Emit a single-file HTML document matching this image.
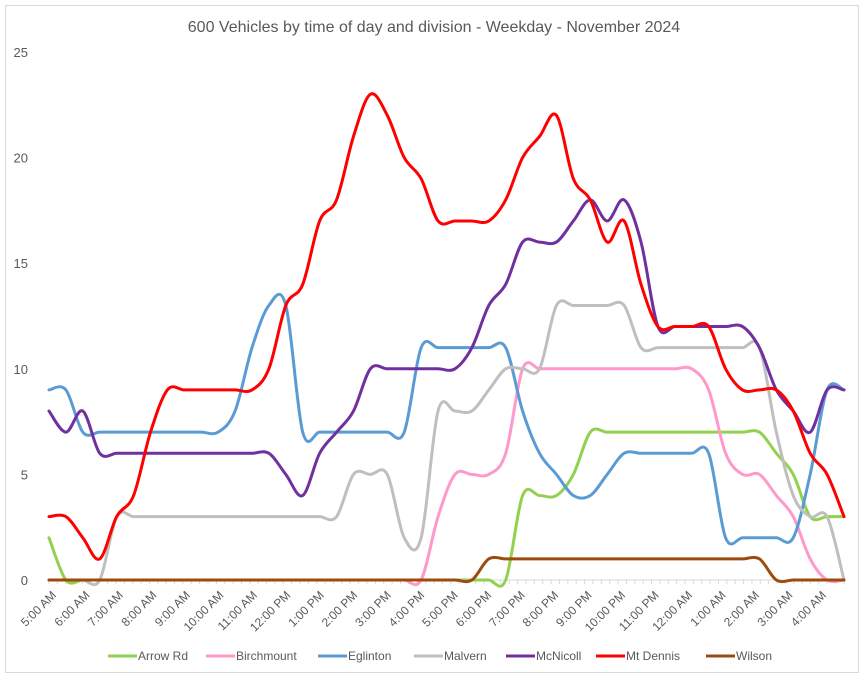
<!DOCTYPE html>
<html><head><meta charset="utf-8">
<style>
body{margin:0;background:#fff;font-family:"Liberation Sans",Arial,sans-serif;}
svg text{font-family:"Liberation Sans",Arial,sans-serif;fill:#595959;}
</style></head>
<body>
<svg id="chart" width="864" height="681" viewBox="0 0 864 681" xmlns="http://www.w3.org/2000/svg">
<rect x="0" y="0" width="864" height="681" fill="#fff"/>
<rect x="5.5" y="5.5" width="853" height="667" fill="none" stroke="#d9d9d9"/>
<text x="434" y="32" font-size="16" text-anchor="middle">600 Vehicles by time of day and division - Weekday - November 2024</text>
<g id="yaxis"></g><g id="xaxis"></g><g id="series"></g><g id="legend"></g>
</svg>
<script>
const hourLabels=["5:00 AM","6:00 AM","7:00 AM","8:00 AM","9:00 AM","10:00 AM","11:00 AM","12:00 PM","1:00 PM","2:00 PM","3:00 PM","4:00 PM","5:00 PM","6:00 PM","7:00 PM","8:00 PM","9:00 PM","10:00 PM","11:00 PM","12:00 AM","1:00 AM","2:00 AM","3:00 AM","4:00 AM"];
const yTicks=[0,5,10,15,20,25];
const seriesNames=["Arrow Rd","Birchmount","Eglinton","Malvern","McNicoll","Mt Dennis","Wilson"];
const seriesColors=["#92d050","#ff99cc","#5b9bd5","#bfbfbf","#7030a0","#ff0000","#9c4a0e"];
// half-hourly values, 5:00 AM .. 4:30 AM
const arrowRd=[2,0,0,0,0,0,0,0,0,0,0,0,0,0,0,0,0,0,0,0,0,0,0,0,0,0,0,0,4,4,4,5,7,7,7,7,7,7,7,7,7,7,7,6,5,3,3,3];
const birchmount=[0,0,0,0,0,0,0,0,0,0,0,0,0,0,0,0,0,0,0,0,0,0,0,3,5,5,5,6,10,10,10,10,10,10,10,10,10,10,10,9,6,5,5,4,3,1,0,0];
const eglinton=[9,9,7,7,7,7,7,7,7,7,7,8,11,13,13,7,7,7,7,7,7,7,11,11,11,11,11,11,8,6,5,4,4,5,6,6,6,6,6,6,2,2,2,2,2,5,9,9];
const malvern=[0,0,0,0,3,3,3,3,3,3,3,3,3,3,3,3,3,3,5,5,5,2,2,8,8,8,9,10,10,10,13,13,13,13,13,11,11,11,11,11,11,11,11,7,4,3,3,0];
const mcNicoll=[8,7,8,6,6,6,6,6,6,6,6,6,6,6,5,4,6,7,8,10,10,10,10,10,10,11,13,14,16,16,16,17,18,17,18,16,12,12,12,12,12,12,11,9,8,7,9,9];
const mtDennis=[3,3,2,1,3,4,7,9,9,9,9,9,9,10,13,14,17,18,21,23,22,20,19,17,17,17,17,18,20,21,22,19,18,16,17,14,12,12,12,12,10,9,9,9,8,6,5,3];
const wilson=[0,0,0,0,0,0,0,0,0,0,0,0,0,0,0,0,0,0,0,0,0,0,0,0,0,0,1,1,1,1,1,1,1,1,1,1,1,1,1,1,1,1,1,0,0,0,0,0];
const allSeries=[arrowRd,birchmount,eglinton,malvern,mcNicoll,mtDennis,wilson];

const NS="http://www.w3.org/2000/svg";
const X0=49,X1=844,Y0=580,Y1=52,NT=96;
function xt(i){return X0+i*(X1-X0)/(NT-1);}
function xs(j,n){return X0+j*(X1-X0)/(n-1);}
function ys(v){return Y0-v*(Y0-Y1)/25;}
function mk(tag,attrs,parent){const e=document.createElementNS(NS,tag);for(const k in attrs)e.setAttribute(k,attrs[k]);parent.appendChild(e);return e;}

const ya=document.getElementById('yaxis');
yTicks.forEach(t=>{
  const tx=mk('text',{x:28,y:ys(t)+5,'font-size':13,'text-anchor':'end'},ya);
  tx.textContent=t;
  
  
});
const xa=document.getElementById('xaxis');
const axl=mk('line',{x1:X0,y1:Y0,x2:X1,y2:Y0,stroke:'#d9d9d9','stroke-width':1},xa);


for(let i=0;i<NT;i++){
  const tk=mk('line',{x1:xt(i),y1:Y0,x2:xt(i),y2:Y0+4,stroke:'#d9d9d9'},xa);
  
  
}
hourLabels.forEach((l,h)=>{
  const x=xt(h*4)+2,y=Y0+10;
  const tx=mk('text',{x:x,y:y,'font-size':12,'text-anchor':'end',transform:`rotate(-45 ${x} ${y})`,dy:'0.7em'},xa);
  tx.textContent=l;
  
  
});

function smoothPath(vals){
  const n=vals.length;
  const p=vals.map((v,i)=>[xs(i,n),ys(v)]);
  let d=`M${p[0][0]},${p[0][1]}`;
  for(let i=0;i<n-1;i++){
    const p0=p[Math.max(0,i-1)],p1=p[i],p2=p[i+1],p3=p[Math.min(n-1,i+2)];
    const c1=[p1[0]+(p2[0]-p0[0])/6,p1[1]+(p2[1]-p0[1])/6];
    const c2=[p2[0]-(p3[0]-p1[0])/6,p2[1]-(p3[1]-p1[1])/6];
    d+=`C${c1[0]},${c1[1]} ${c2[0]},${c2[1]} ${p2[0]},${p2[1]}`;
  }
  return d;
}
const sg=document.getElementById('series');
allSeries.forEach((s,k)=>{
  const pth=mk('path',{d:smoothPath(s),fill:'none',stroke:seriesColors[k],'stroke-width':3,'stroke-linejoin':'round','stroke-linecap':'round'},sg);
  
  
});
const lg=document.getElementById('legend');
const legX=[108,206,318,414,506,596,706];
seriesNames.forEach((n,k)=>{
  const g=mk('g',{},lg);
  
  
  mk('line',{x1:legX[k],y1:656,x2:legX[k]+29,y2:656,stroke:seriesColors[k],'stroke-width':3},g);
  const t=mk('text',{x:legX[k]+30,y:660,'font-size':12},g);
  t.textContent=n;
});
</script>
</body></html>
